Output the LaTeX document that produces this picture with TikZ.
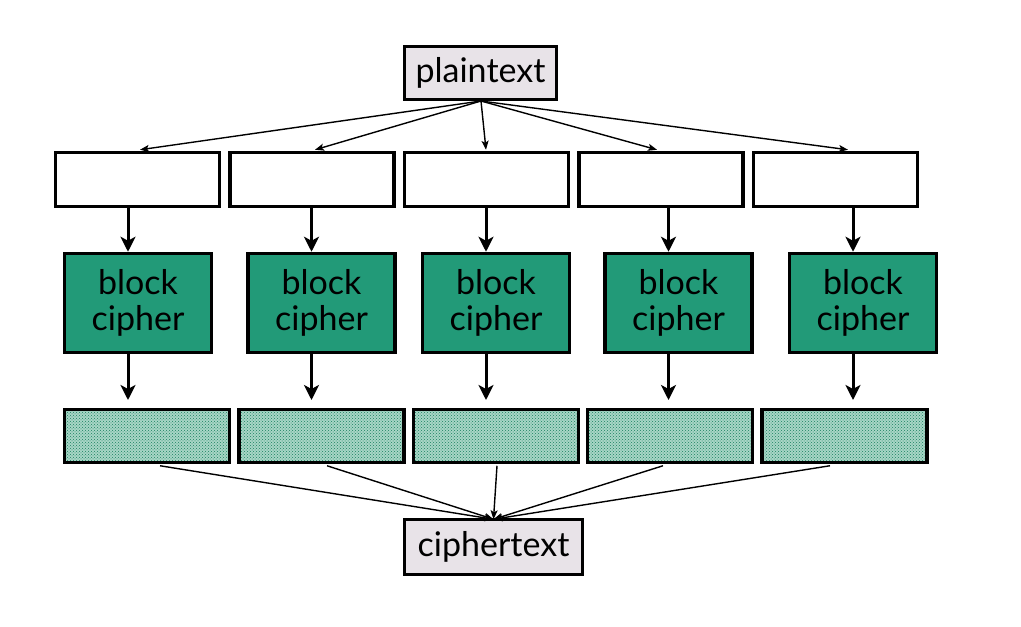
\documentclass[tikz,border=0pt]{standalone}
\usepackage{fontspec}
\setmainfont{Lato}
\usetikzlibrary{arrows.meta,patterns,calc}
\definecolor{ptfill}{HTML}{E8E3E8}
\definecolor{cgreen}{HTML}{229A78}
\definecolor{hatchbg}{HTML}{A8D6C6}
\definecolor{hatchfg}{HTML}{1A8060}
\tikzset{
  box/.style={draw=black,line width=3.5pt,inner sep=0pt,rectangle},
  textbox/.style={box,fill=ptfill,font=\fontsize{34}{36}\selectfont},
  inbox/.style={box,fill=white,minimum width=164pt,minimum height=54pt},
  cipherbox/.style={box,fill=cgreen,minimum width=147pt,minimum height=99pt,align=center,font=\fontsize{34}{36}\selectfont},
  outbox/.style={box,minimum width=165pt,minimum height=53pt,
     preaction={fill=hatchbg},pattern=crosshatch dots,pattern color=hatchfg},
  bigarrow/.style={line width=3pt,-{Stealth[length=15pt,width=15pt,inset=4pt]}},
  thinarrow/.style={line width=1.4pt,-{Stealth[length=9pt,width=7pt,inset=2pt]}},
}
\begin{document}
\begin{tikzpicture}[x=1pt,y=-1pt]
\useasboundingbox (0,0) rectangle (1021,627);
\node[textbox,minimum width=152pt,minimum height=53pt] (p) at (480.5,73) {plaintext};
\node[textbox,minimum width=178pt,minimum height=55pt] (c) at (493.5,547) {ciphertext};
\foreach \i/\tx/\cx/\hx in {1/137.5/138/147, 2/312/321.5/321.5, 3/486.5/496/496, 4/661/678.5/670, 5/835.5/863/844.5}{
  \node[inbox] (t\i) at (\tx,179.5) {};
  \node[cipherbox] (b\i) at (\cx,303) {block\\cipher};
  \node[outbox] (h\i) at (\hx,436) {};
  \coordinate (a\i) at (\cx-10,0);
  \coordinate (d\i) at (\cx-10,400);
}
\foreach \i in {1,...,5}{
  \draw[bigarrow] (t\i.south -| a\i) -- (b\i.north -| a\i);
  \draw[bigarrow] (b\i.south -| a\i) -- (d\i);
}
\coordinate (ps) at (481,101);
\foreach \i/\o in {1/2.5,2/3,3/-0.5,4/-4,5/12.5}{
  \draw[thinarrow] (ps) -- ([xshift=\o pt,yshift=1pt]t\i.north);
}
\foreach \i/\o in {1/13,2/5.5,3/1,4/-7,5/-14.5}{
  \draw[thinarrow] ([xshift=\o pt,yshift=-1.5pt]h\i.south) -- ([yshift=-1.5pt]c.north);
}
\end{tikzpicture}
\end{document}
